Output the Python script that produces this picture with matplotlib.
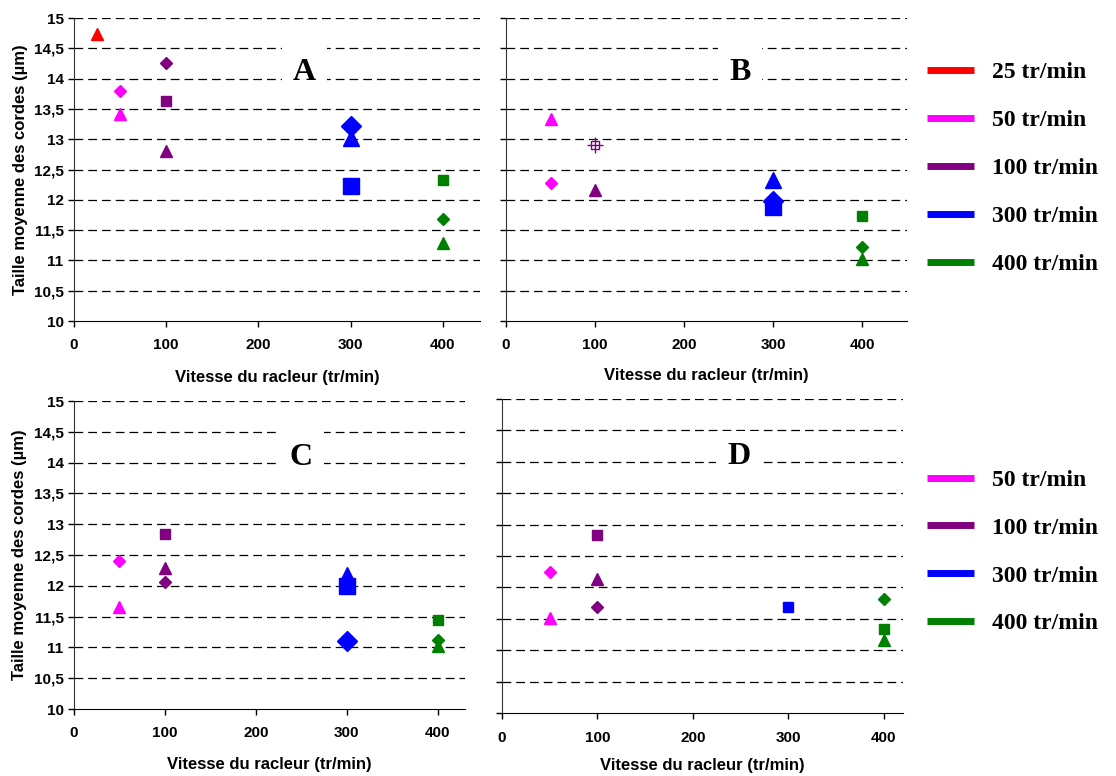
import matplotlib
matplotlib.use("Agg")
import matplotlib.pyplot as plt
from matplotlib.lines import Line2D
import numpy as np

nan = np.nan

# agitation speeds (legend series) and their colours
speeds = [25, 50, 100, 300, 400]
colors = ['#FF0000', '#FF00FF', '#800080', '#0000FF', '#008000']
series_labels = ['25 tr/min', '50 tr/min', '100 tr/min', '300 tr/min', '400 tr/min']

# panel A
A_diamond = [nan, 13.80, 14.26, 13.21, 11.68]
A_square = [nan, nan, 13.63, 12.23, 12.32]
A_triangle = [14.73, 13.42, 12.81, 13.02, 11.28]

# panel B
B_diamond = [nan, 12.27, nan, 11.98, 11.22]
B_square = [nan, nan, 12.91, 11.88, 11.74]
B_triangle = [nan, 13.33, 12.17, 12.33, 11.03]

# panel C
C_diamond = [nan, 12.41, 12.07, 11.11, 11.12]
C_square = [nan, nan, 12.84, 12.00, 11.44]
C_triangle = [nan, 11.65, 12.29, 12.17, 11.03]

# panel D
D_diamond = [nan, 12.25, 11.68, nan, 11.82]
D_square = [nan, nan, 12.84, 11.68, 11.34]
D_triangle = [nan, 11.52, 12.14, nan, 11.16]

panel_letters = ['A', 'B', 'C', 'D']
yticks = np.arange(10, 15.01, 0.5)
ytick_labels = ['10', '10,5', '11', '11,5', '12', '12,5', '13', '13,5', '14', '14,5', '15']
xticks = [0, 100, 200, 300, 400]

fig = plt.figure(figsize=(11.16, 7.76), dpi=100)

# axes boxes [left, bottom, width, height], x max, letter position
layout = [
    ([0.0663, 0.5863, 0.3637, 0.3905], 440, (250, 14.1)),
    ([0.4534, 0.5863, 0.3593, 0.3905], 450, (263, 14.1)),
    ([0.0663, 0.0863, 0.3504, 0.3969], 430, (250, 14.09)),
    ([0.4498, 0.0812, 0.3593, 0.4046], 420, (248, 14.08)),
]
panels = [
    (A_diamond, A_square, A_triangle),
    (B_diamond, B_square, B_triangle),
    (C_diamond, C_square, C_triangle),
    (D_diamond, D_square, D_triangle),
]
xlabel_pads = [13, 11.5, 12.4, 9.5]
xtick_pads = [8, 8, 8, 9]
ylabel_pads = [4, 0, 5, 0]

tick_font = dict(family='Liberation Sans', weight='bold', size=11)
label_font = dict(family='Liberation Sans', weight='bold', size=12)

for k, (box, xmax, (lx, ly)) in enumerate(layout):
    ax = fig.add_axes(box)
    diam, sq, tri = panels[k]
    for i, sp in enumerate(speeds):
        big = (sp == 300) and k != 3
        ms = 11 if big else 7
        ax.plot(sp, diam[i], 'D', color=colors[i], ms=ms - 1, zorder=3)
        if k == 1 and sp == 100:
            # hollow square with cross marker
            ax.plot(sp, sq[i], 's', mfc='none', mec=colors[i], ms=6, mew=1, zorder=3)
            ax.plot(sp, sq[i], '+', color=colors[i], ms=11, mew=1, zorder=3)
        else:
            ax.plot(sp, sq[i], 's', color=colors[i], ms=ms, zorder=3)
        ax.plot(sp, tri[i], '^', color=colors[i], ms=ms + 1, zorder=3)

    ax.set_xlim(0, xmax)
    ax.set_ylim(10, 15)
    ax.set_yticks(yticks)
    ax.set_xticks(xticks)
    ax.set_xticklabels([str(v) for v in xticks], fontdict=tick_font)
    if k in (0, 2):
        ax.set_yticklabels(ytick_labels, fontdict=tick_font)
        ax.set_ylabel('Taille moyenne des cordes (µm)', fontdict=label_font,
                      labelpad=ylabel_pads[k])
    else:
        ax.set_yticklabels([])
    ax.set_xlabel('Vitesse du racleur (tr/min)', fontdict=label_font, labelpad=xlabel_pads[k])

    for y in yticks[1:]:
        ax.axhline(y, color='black', lw=0.9, ls=(0, (7, 4)), zorder=1)
    ax.spines['top'].set_visible(False)
    ax.spines['right'].set_visible(False)
    ax.spines['left'].set_color('#333333')
    ax.spines['bottom'].set_color('black')
    ax.tick_params(direction='out', length=4, width=1)
    ax.tick_params(axis='x', pad=xtick_pads[k])

    ax.text(lx, ly, panel_letters[k], family='Liberation Serif', weight='bold',
            size=23, ha='center', va='center', zorder=2,
            bbox=dict(facecolor='white', edgecolor='none', pad=8))

# legends
leg_font = dict(family='Liberation Serif', weight='bold', size=17)
handles_top = [Line2D([], [], color=c, lw=5, solid_capstyle='butt') for c in colors]
fig.legend(handles_top, series_labels, loc='upper left', bbox_to_anchor=(0.8226, 0.9325),
           frameon=False, prop=leg_font, handlelength=1.95, handletextpad=0.78,
           labelspacing=1.115, borderaxespad=0)
fig.legend(handles_top[1:], series_labels[1:], loc='upper left', bbox_to_anchor=(0.8226, 0.4073),
           frameon=False, prop=leg_font, handlelength=1.95, handletextpad=0.78,
           labelspacing=1.115, borderaxespad=0)

fig.savefig('out.png', dpi=100)
